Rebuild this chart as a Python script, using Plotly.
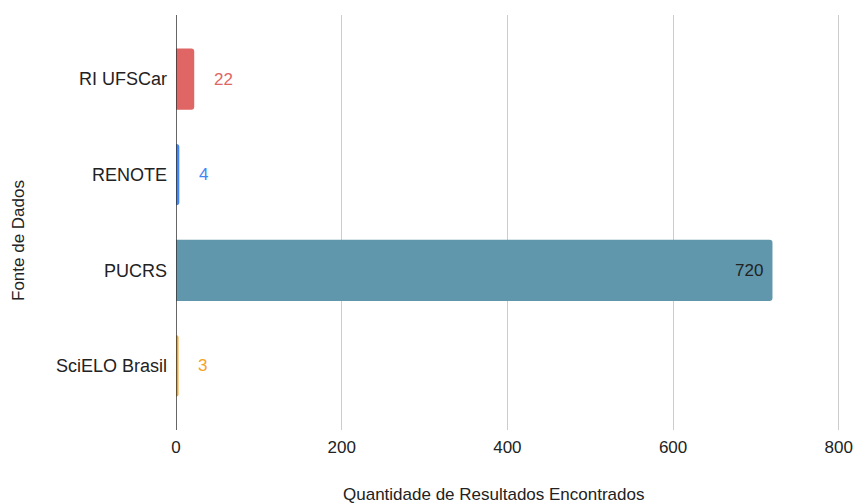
import plotly.graph_objects as go

categories = ["RI UFSCar", "RENOTE", "PUCRS", "SciELO Brasil"]
values = [22, 4, 720, 3]
colors = ["#e06666", "#4285f4", "#6097ac", "#f6a31f"]
label_colors = ["#e06666", "#4285f4", "#222222", "#f6a31f"]
x_ticks = [0, 200, 400, 600, 800]
x_title = "Quantidade de Resultados Encontrados"
y_title = "Fonte de Dados"

font_family = "Liberation Sans, Arial, sans-serif"
W, H = 856, 504
ML, MR, MT, MB = 176, 16, 15, 74

fig = go.Figure()
fig.add_trace(go.Bar(
    y=categories,
    x=values,
    orientation="h",
    marker=dict(color=colors, line=dict(width=0)),
    width=0.64,
    hoverinfo="skip",
))

annotations = []
for cat, val, lc in zip(categories, values, label_colors):
    inside = val > 400
    annotations.append(dict(
        x=val, y=cat, xref="x", yref="y",
        text=str(val), showarrow=False,
        xanchor="right" if inside else "left",
        xshift=-7 if inside else 18,
        font=dict(color=lc, size=17, family=font_family),
    ))

pw = W - ML - MR
ph = H - MT - MB
# axis titles
annotations.append(dict(
    text=x_title, showarrow=False, xref="paper", yref="paper",
    x=(493 - ML) / pw, y=-(494 - (MT + ph)) / ph, xanchor="center", yanchor="middle",
    font=dict(size=17, color="#222222", family=font_family),
))
annotations.append(dict(
    text=y_title, showarrow=False, xref="paper", yref="paper", textangle=-90,
    x=(18 - ML) / pw, y=1 - (241 - MT) / ph, xanchor="center", yanchor="middle",
    font=dict(size=17, color="#222222", family=font_family),
))

fig.update_layout(
    width=W, height=H,
    margin=dict(l=ML, r=MR, t=MT, b=MB),
    plot_bgcolor="white",
    paper_bgcolor="white",
    barcornerradius=3,
    showlegend=False,
    font=dict(family=font_family, size=18, color="#222222"),
    annotations=annotations,
    xaxis=dict(
        range=[0, 801.5],
        tickvals=x_ticks,
        showgrid=True, gridcolor="#cccccc", gridwidth=1,
        zeroline=False,
        showline=False,
        ticks="",
        automargin=False,
        ticklabelstandoff=5,
        tickfont=dict(size=17, color="#222222"),
    ),
    yaxis=dict(
        categoryorder="array",
        categoryarray=categories[::-1],
        range=[-0.67, 3.67],
        showgrid=False,
        zeroline=False,
        showline=False,
        ticks="",
        automargin=False,
        ticklabelstandoff=8,
        tickfont=dict(size=18, color="#222222"),
    ),
    shapes=[dict(type="line", xref="x", yref="paper", x0=0, x1=0, y0=0, y1=1,
                 line=dict(color="#333333", width=1.5))],
)

fig.write_html("out.html")
